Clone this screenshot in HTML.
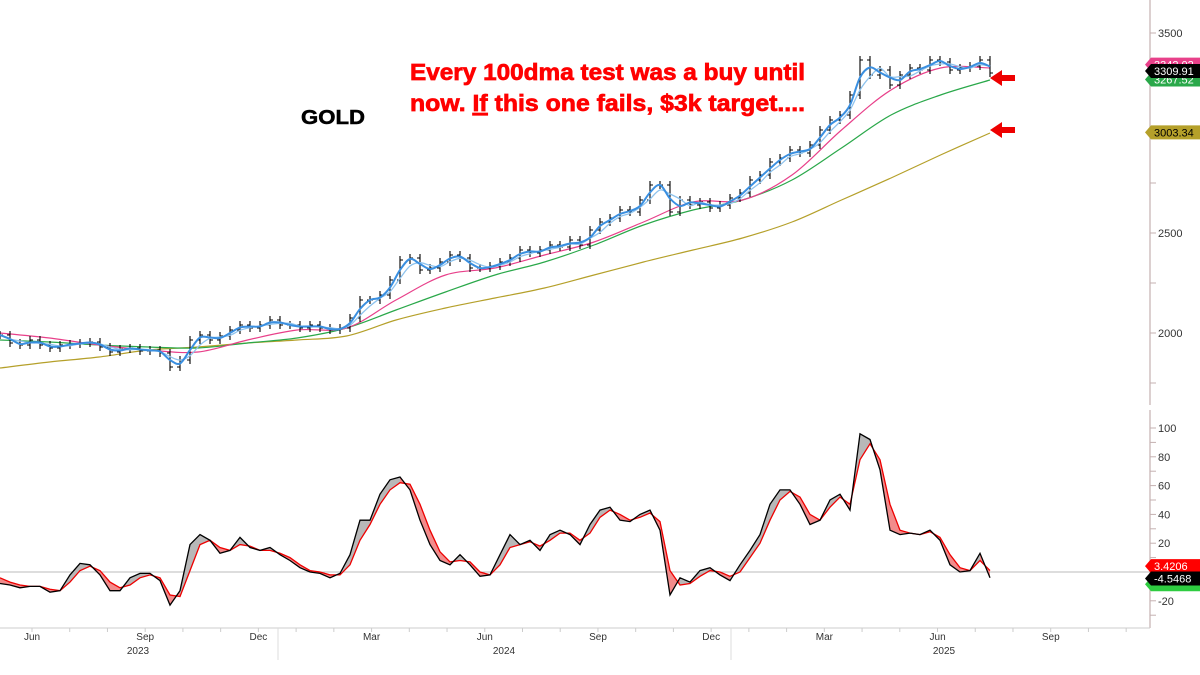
<!DOCTYPE html>
<html><head><meta charset="utf-8"><style>
html,body{margin:0;padding:0;background:#fff;}
svg{display:block;font-family:"Liberation Sans",sans-serif;}
</style></head><body>
<svg id="chart" width="1200" height="675" viewBox="0 0 1200 675">
<g id="upper"></g>
<g id="lower"></g>
<g id="axes"></g>
<text x="301" y="124" font-size="20" font-weight="bold" fill="#000" stroke="#000" stroke-width="0.5" textLength="64" lengthAdjust="spacingAndGlyphs">GOLD</text>
<text x="410" y="80" font-size="23" font-weight="bold" fill="#f00" stroke="#f00" stroke-width="0.7" textLength="395" lengthAdjust="spacingAndGlyphs">Every 100dma test was a buy until</text>
<text x="410" y="111" font-size="23" font-weight="bold" fill="#f00" stroke="#f00" stroke-width="0.7" textLength="395" lengthAdjust="spacingAndGlyphs">now. <tspan text-decoration="underline">If</tspan> this one fails, $3k target....</text>
<polygon points="990,78 1002,70 1002,75 1015,75 1015,81 1002,81 1002,86" fill="#e00"/>
<polygon points="990,130 1002,122 1002,127 1015,127 1015,133 1002,133 1002,138" fill="#e00"/>
</svg>
<script>
// price closes sampled every ~10px (approx weekly), May 2023 - Jul 2025
const closes=[1990,1950,1940,1965,1940,1925,1940,1945,1950,1955,1930,1905,1920,1925,1910,1915,1900,1830,1865,1965,1990,1965,1985,2015,2040,2025,2040,2065,2040,2040,2025,2040,2025,2015,2025,2075,2165,2165,2190,2265,2365,2375,2315,2325,2355,2390,2375,2325,2325,2335,2355,2375,2415,2400,2415,2440,2430,2465,2440,2515,2555,2575,2615,2605,2665,2740,2740,2605,2665,2640,2655,2625,2640,2675,2700,2765,2790,2855,2875,2915,2900,2940,3015,3065,3090,3190,3365,3290,3315,3240,3290,3325,3315,3365,3355,3315,3325,3335,3365,3300];
// moving averages sampled every ~50px
const ma50=[2000,1975,1940,1915,1905,1965,2015,2025,2165,2290,2325,2390,2455,2555,2655,2665,2790,3015,3215,3325,3325];
const ma100=[1965,1955,1940,1930,1925,1950,1975,2025,2115,2205,2290,2355,2440,2540,2615,2665,2765,2925,3090,3190,3265];
const ma200=[1825,1855,1880,1915,1930,1950,1965,1985,2065,2125,2175,2225,2290,2355,2415,2475,2555,2665,2775,2890,3000];
// oscillator
const oscMain=[-8,-9,-11,-10,-10,-14,-13,-2,6,5,-2,-13,-13,-4,-1,-1,-6,-23,-13,19,26,22,13,15,24,17,15,17,12,8,3,0,-1,-4,-1,12,36,36,54,64,66,57,36,19,8,5,12,5,-3,-2,12,26,19,22,15,26,29,26,19,33,43,45,36,35,40,43,29,-16,-4,-7,1,3,-2,-6,5,15,26,47,57,57,47,33,36,50,54,43,96,92,71,29,26,27,26,29,22,5,0,1,13,-4];
const oscSignal=[-4,-7,-9,-10,-10,-12,-13,-7,1,4,1,-7,-11,-9,-4,-2,-4,-16,-17,1,19,22,17,15,19,18,15,15,13,10,5,1,0,-2,-2,5,22,33,47,57,62,61,47,29,14,7,8,7,0,-2,5,17,19,21,18,22,27,27,22,27,38,43,40,36,38,41,35,1,-9,-8,-3,1,0,-3,0,10,20,36,50,56,52,40,36,45,52,47,78,89,78,47,29,27,26,28,24,12,3,1,8,1];
const priceTicks=[2000,2500,3000,3500];
const oscTicks=[-20,0,20,40,60,80,100];
const months=["Jun","Sep","Dec","Mar","Jun","Sep","Dec","Mar","Jun","Sep"];
const years=["2023","2024","2025"];
const tagVals=[3342.02,3309.91,3267.52,3003.34];
const oscTagVals=[3.4206,-4.5468];

const NS="http://www.w3.org/2000/svg";
const yP=p=>333-(p-2000)*0.2;
const yO=v=>572-v*1.44;
const xI=i=>i*10;
const xM=i=>i*49.5;
const xMonth=i=>32+i*113.2;
function mk(tag,attrs,parent){const e=document.createElementNS(NS,tag);for(const k in attrs)e.setAttribute(k,attrs[k]);parent.appendChild(e);return e;}
const up=document.getElementById('upper'),lo=document.getElementById('lower'),ax=document.getElementById('axes');

function smoothPath(arr,xf,yf){
  const pts=arr.map((v,i)=>[xf(i),yf(v)]);
  let d='M'+pts[0][0].toFixed(1)+','+pts[0][1].toFixed(1);
  for(let i=0;i<pts.length-1;i++){
    const p0=pts[Math.max(0,i-1)],p1=pts[i],p2=pts[i+1],p3=pts[Math.min(pts.length-1,i+2)];
    const c1=[p1[0]+(p2[0]-p0[0])/6,p1[1]+(p2[1]-p0[1])/6],c2=[p2[0]-(p3[0]-p1[0])/6,p2[1]-(p3[1]-p1[1])/6];
    d+=`C${c1[0].toFixed(1)},${c1[1].toFixed(1)} ${c2[0].toFixed(1)},${c2[1].toFixed(1)} ${p2[0].toFixed(1)},${p2[1].toFixed(1)}`;
  }
  return d;
}
function line(arr,xf,yf,color,w,name,parent,smooth){
  const d=smooth?smoothPath(arr,xf,yf):arr.map((v,i)=>(i?'L':'M')+xf(i).toFixed(1)+','+yf(v).toFixed(1)).join('');
  const p=mk('path',{d:d,fill:'none',stroke:color,'stroke-width':w},parent);
  
  
  return p;
}
line(ma200,xM,yP,'#b5a02a',1.2,'ma200-line',up,true);
line(ma100,xM,yP,'#2aa84a',1.2,'ma100-line',up,true);
line(ma50,xM,yP,'#e8408a',1.2,'ma50-line',up,true);
// price bars
closes.forEach((c,i)=>{
  const prev=i?closes[i-1]:c;
  const hi=Math.max(prev,c)+20,lowv=Math.min(prev,c)-20;
  const x=xI(i);
  const g=mk('path',{d:`M${x},${yP(hi)}V${yP(lowv)}M${x-3},${yP(prev)}H${x}M${x},${yP(c)}H${x+3}`,stroke:'#000','stroke-width':1.1,fill:'none'},up);
  
  
});
function roll(n){return closes.map((c,i)=>{let s=0,k=0;for(let j=Math.max(0,i-n+1);j<=i;j++){s+=closes[j];k++;}return s/k;});}
line(roll(3),xI,yP,'#8ec3ee',1.3,'ma20-line',up,true);
line(roll(2),xI,yP,'#3a8fe0',2,'ma10-line',up,true);

// oscillator fill
mk('line',{x1:0,y1:572,x2:1150,y2:572,stroke:'#bbb','stroke-width':1},lo);
for(let i=0;i<oscMain.length-1;i++){
  const a=oscMain[i],b=oscMain[i+1],s=oscSignal[i],t=oscSignal[i+1];
  const col=(a+b)>(s+t)?'#b8b8b8':'#f28b8b';
  const p=mk('polygon',{points:`${xI(i)},${yO(a)} ${xI(i+1)},${yO(b)} ${xI(i+1)},${yO(t)} ${xI(i)},${yO(s)}`,fill:col,stroke:'none'},lo);
  
  
}
line(oscSignal,xI,yO,'#e00',1.3,'osc-signal-line',lo);
line(oscMain,xI,yO,'#000',1.3,'osc-main-line',lo);

// axes
mk('line',{x1:1150,y1:0,x2:1150,y2:405,stroke:'#c4b0b0','stroke-width':1.2},ax);
mk('line',{x1:1150,y1:410,x2:1150,y2:628,stroke:'#c4b0b0','stroke-width':1.2},ax);
mk('line',{x1:0,y1:628,x2:1150,y2:628,stroke:'#ccc','stroke-width':1},ax);
for(let p=1750;p<=3500;p+=250){mk('line',{x1:1150,y1:yP(p),x2:1156,y2:yP(p),stroke:'#c4b0b0'},ax);}
priceTicks.forEach(p=>{
  const t=mk('text',{x:1158,y:yP(p)+4,'font-size':11,fill:'#333'},ax);t.textContent=p;
  
  
});
for(let v=-30;v<=100;v+=10){mk('line',{x1:1150,y1:yO(v),x2:1156,y2:yO(v),stroke:'#c4b0b0'},ax);}
oscTicks.forEach(v=>{if(v===0)return;
  const t=mk('text',{x:1158,y:yO(v)+4,'font-size':11,fill:'#333'},ax);t.textContent=v;
  
  
});
months.forEach((m,i)=>{
  const t=mk('text',{x:xMonth(i),y:640,'font-size':10,fill:'#333','text-anchor':'middle'},ax);t.textContent=m;
  
  
});
for(let i=-1;i<30;i++){const x=xMonth(0)+(i)*37.73;if(x>0&&x<1150)mk('line',{x1:x,y1:628,x2:x,y2:632,stroke:'#ccc'},ax);}
[278,731].forEach(x=>mk('line',{x1:x,y1:628,x2:x,y2:660,stroke:'#ddd'},ax));
[138,504,944].forEach((x,i)=>{
  const t=mk('text',{x:x,y:654,'font-size':10,fill:'#333','text-anchor':'middle'},ax);t.textContent=years[i];
  
  
});
function tag(y,val,bg,fg,name){
  const g=mk('g',{},ax);
  
  
  mk('polygon',{points:`1145,${y} 1151,${y-7} 1200,${y-7} 1200,${y+7} 1151,${y+7}`,fill:bg},g);
  const t=mk('text',{x:1154,y:y+4,'font-size':11,fill:fg},g);t.textContent=val;
}
tag(yP(tagVals[0]),tagVals[0].toFixed(2),'#e8408a','#fff','tag-ma50');
tag(yP(tagVals[2]),tagVals[2].toFixed(2),'#2aa84a','#fff','tag-ma100');
tag(yP(tagVals[1]),tagVals[1].toFixed(2),'#000','#fff','tag-price');
tag(yP(tagVals[3]),tagVals[3].toFixed(2),'#b5a02a','#000','tag-ma200');
tag(yO(-8.5),'','#2ecc40','#fff','tag-osc-green');
tag(yO(oscTagVals[0])-1,oscTagVals[0].toFixed(4),'#f00','#fff','tag-osc-signal');
tag(yO(oscTagVals[1]),oscTagVals[1].toFixed(4),'#000','#fff','tag-osc-main');
</script>
</body></html>
